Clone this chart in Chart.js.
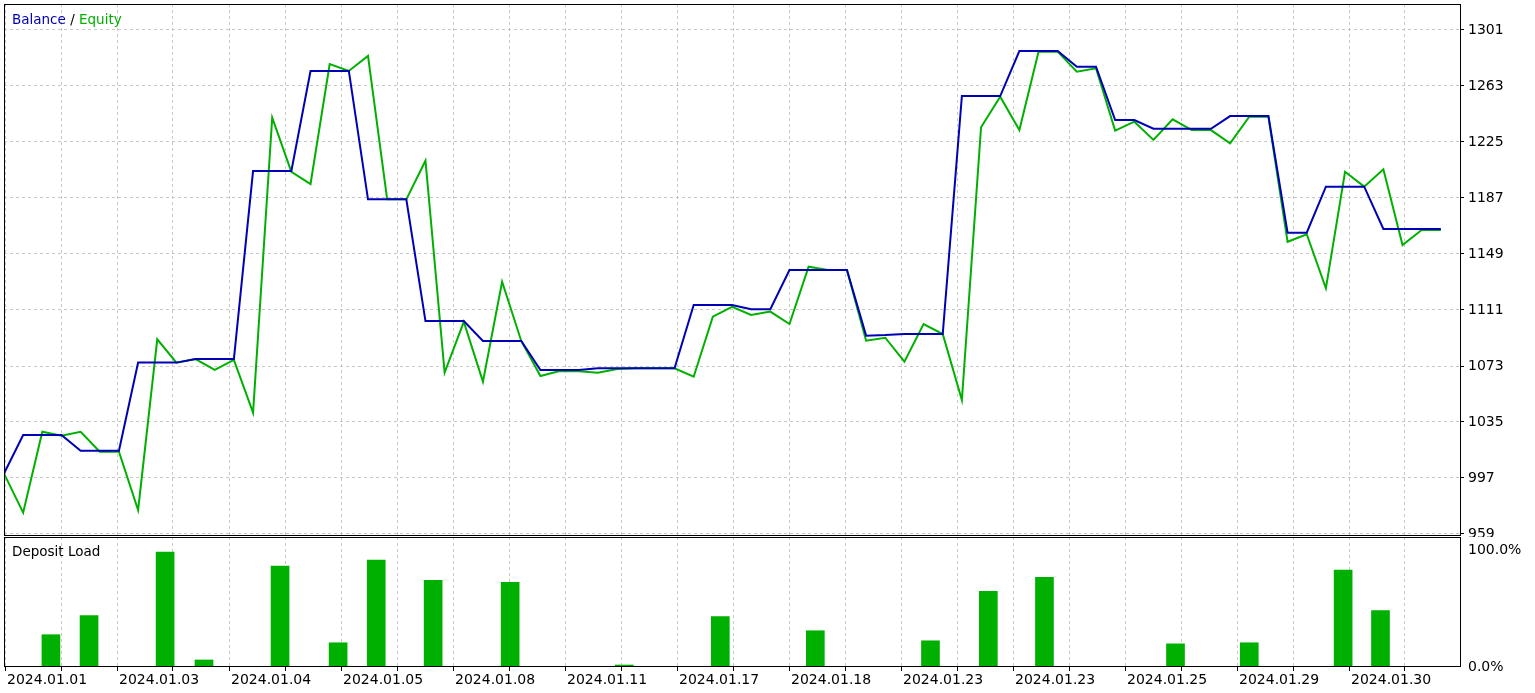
<!DOCTYPE html>
<html lang="en">
<head>
<meta charset="UTF-8">
<title>Balance / Equity</title>
<script src="https://cdn.jsdelivr.net/npm/chart.js"></script>
<style>
  body { margin: 0; background: #fff; }
  canvas { position: absolute; left: 0; }
</style>
</head>
<body>
<canvas id="mainChart" width="1535" height="537" style="top:0"></canvas>
<canvas id="loadChart" width="1535" height="156" style="top:537px"></canvas>

<script>
// values, one point per deal
const balance = [
  1000, 1026.2, 1026.2, 1026.2, 1015.5, 1015.5, 1015.5, 1075.3, 1075.3, 1075.3,
  1077.7, 1077.7, 1077.7, 1205.3, 1205.3, 1205.3, 1273.2, 1273.2, 1273.2, 1186.1,
  1186.1, 1186.1, 1103.5, 1103.5, 1103.5, 1090, 1090, 1090, 1070.3, 1070.3,
  1070.3, 1071.4, 1071.4, 1071.4, 1071.4, 1071.4, 1114.4, 1114.4, 1114.4, 1111.5,
  1111.5, 1138.1, 1138.1, 1138.1, 1138.1, 1093.6, 1094, 1094.7, 1094.7, 1094.7,
  1256.2, 1256.2, 1256.2, 1286.7, 1286.7, 1286.7, 1276.1, 1276.1, 1239.9, 1239.9,
  1234, 1234, 1234, 1234, 1242.6, 1242.6, 1242.6, 1163.5, 1163.5, 1194.7,
  1194.7, 1194.7, 1166, 1166, 1166, 1166
];
const equity = [
  1000, 973.5, 1028.4, 1025.7, 1028.4, 1014.8, 1014.8, 975.3, 1091.1, 1075.3,
  1077.7, 1070.3, 1077.1, 1041.3, 1241.5, 1204.8, 1196.5, 1277.9, 1273.2, 1283.4,
  1186.1, 1186.1, 1212.3, 1068.5, 1103, 1062.4, 1130.2, 1090, 1066.2, 1069.6,
  1069.5, 1068.5, 1071, 1071.4, 1071.4, 1071.4, 1065.7, 1106.5, 1113.2, 1107.6,
  1109.9, 1101.5, 1140.4, 1138.1, 1138.1, 1090.2, 1092.2, 1075.9, 1101.5, 1094.7,
  1049.9, 1235, 1255.7, 1233.1, 1286.3, 1286.3, 1272.7, 1275, 1232.7, 1238.8,
  1226.4, 1240.4, 1233.1, 1233.1, 1224.1, 1242.2, 1242.2, 1157.3, 1162.4, 1125.7,
  1204.8, 1194.7, 1206.5, 1155.1, 1165.3, 1165.3
];

// deposit load bars: position on the deal axis and load in %
const loadPos = [2.45, 4.44, 8.41, 10.44, 14.41, 17.44, 19.43, 22.4, 26.42, 32.38,
                 37.39, 42.35, 48.36, 51.38, 54.31, 61.15, 65.0, 69.9, 71.85];
const loadValues = [27.6, 44, 98.3, 6, 86.2, 20.7, 91.4, 74.1, 72.4, 1.7,
                    43.1, 31, 22.4, 64.7, 76.7, 19.8, 20.7, 82.8, 48.3];

const dateLabels = ['2024.01.01', '2024.01.03', '2024.01.04', '2024.01.05', '2024.01.08',
                    '2024.01.11', '2024.01.17', '2024.01.18', '2024.01.23', '2024.01.23',
                    '2024.01.25', '2024.01.29', '2024.01.30'];
const balanceTicks = [959, 997, 1035, 1073, 1111, 1149, 1187, 1225, 1263, 1301];
const loadTicks = [0, 100];

const BLUE = 'rgb(0,0,180)';
const GREEN = 'rgb(0,176,0)';
const GRID = '#c8c8c8';

Chart.defaults.font.family = '"DejaVu Sans", sans-serif';
Chart.defaults.font.size = 14;
Chart.defaults.color = '#000';

// vertical grid every 56px, deal axis 0..76 over 1456px
const X_MAX = 76;
const unitsPerPx = X_MAX / 1456;
function gridTicks() {
  const t = [];
  for (let i = 0; i < 26; i++) t.push({ value: (1 + 56 * i) * unitsPerPx });
  return t;
}

// no extra room for half labels at the ends of the axes
function noPad(s) {
  s.paddingTop = 0;
  s.paddingBottom = 0;
  s.paddingLeft = 0;
  s.paddingRight = 0;
}

const frame = {
  id: 'frame',
  afterDraw(chart) {
    const a = chart.chartArea, ctx = chart.ctx;
    ctx.save();
    ctx.strokeStyle = '#000';
    ctx.lineWidth = 1;
    ctx.strokeRect(a.left + 0.5, a.top + 0.5, a.right - a.left, a.bottom - a.top - 1);
    ctx.restore();
  }
};

const balanceLegend = {
  id: 'balanceLegend',
  afterDraw(chart) {
    const ctx = chart.ctx;
    ctx.save();
    ctx.font = '13.5px "DejaVu Sans"';
    ctx.textBaseline = 'alphabetic';
    let x = 12;
    const y = 24;
    [['Balance', BLUE], [' / ', '#000'], ['Equity', GREEN]].forEach(([t, c]) => {
      ctx.fillStyle = c;
      ctx.fillText(t, x, y);
      x += ctx.measureText(t).width;
    });
    ctx.restore();
  }
};

const loadTitle = {
  id: 'loadTitle',
  afterDraw(chart) {
    const ctx = chart.ctx;
    ctx.save();
    ctx.font = '13.5px "DejaVu Sans"';
    ctx.fillStyle = '#000';
    ctx.fillText('Deposit Load', 12, 19);
    ctx.restore();
  }
};

// main balance / equity chart
const pxPerValue = 504 / 342;
new Chart(document.getElementById('mainChart'), {
  type: 'line',
  data: {
    datasets: [{
      label: 'Balance',
      data: balance.map((v, i) => ({ x: i, y: v })),
      borderColor: BLUE,
      borderWidth: 2,
      pointRadius: 0,
      tension: 0,
      fill: false
    }, {
      label: 'Equity',
      data: equity.map((v, i) => ({ x: i, y: v })),
      borderColor: GREEN,
      borderWidth: 2,
      pointRadius: 0,
      tension: 0,
      fill: false
    }]
  },
  options: {
    responsive: false,
    animation: false,
    layout: { padding: { left: 4, top: 4, right: 0, bottom: 1 } },
    plugins: { legend: { display: false }, tooltip: { enabled: false } },
    scales: {
      x: {
        type: 'linear', min: 0, max: X_MAX,
        afterBuildTicks: s => { s.ticks = gridTicks(); },
        afterFit: s => { s.height = 0; noPad(s); },
        ticks: { display: false },
        grid: { color: GRID, drawTicks: false },
        border: { display: false, dash: [3, 3] }
      },
      y: {
        position: 'right',
        min: 959 - 2 / pxPerValue,
        max: 1301 + 26 / pxPerValue,
        afterBuildTicks: s => { s.ticks = balanceTicks.map(v => ({ value: v })); },
        afterFit: s => { s.width = 75; noPad(s); },
        ticks: { padding: 4, font: { size: 14 }, callback: v => String(v) },
        grid: { color: GRID, tickColor: '#000', tickLength: 4 },
        border: { display: false, dash: [3, 3] }
      }
    }
  },
  plugins: [frame, balanceLegend]
});

// deposit load panel
new Chart(document.getElementById('loadChart'), {
  type: 'bar',
  data: {
    datasets: [{
      label: 'Deposit Load',
      data: loadPos.map((p, i) => ({ x: p, y: loadValues[i] })),
      backgroundColor: 'rgb(0,176,0)',
      borderWidth: 0,
      barThickness: 18
    }]
  },
  options: {
    responsive: false,
    animation: false,
    layout: { padding: { left: 4, top: 0, right: 0, bottom: 0 } },
    plugins: { legend: { display: false }, tooltip: { enabled: false } },
    scales: {
      x: {
        type: 'linear', min: 0, max: X_MAX, offset: false,
        afterBuildTicks: s => { s.ticks = gridTicks(); },
        afterFit: s => { s.height = 26; noPad(s); },
        ticks: {
          autoSkip: false, maxRotation: 0, align: 'start', labelOffset: 2, padding: 1,
          callback: (v, i) => (i % 2 === 0 ? dateLabels[i / 2] : '')
        },
        grid: { color: GRID, offset: false, tickColor: '#000', tickLength: 4 },
        border: { display: false, dash: [3, 3] }
      },
      y: {
        position: 'right', min: 0, max: 130 / 117 * 100,
        afterBuildTicks: s => { s.ticks = loadTicks.map(v => ({ value: v })); },
        afterFit: s => { s.width = 75; noPad(s); },
        ticks: { padding: 8, callback: v => v.toFixed(1) + '%' },
        grid: { display: false, drawTicks: false },
        border: { display: false }
      }
    }
  },
  plugins: [frame, loadTitle]
});
</script>
</body>
</html>
